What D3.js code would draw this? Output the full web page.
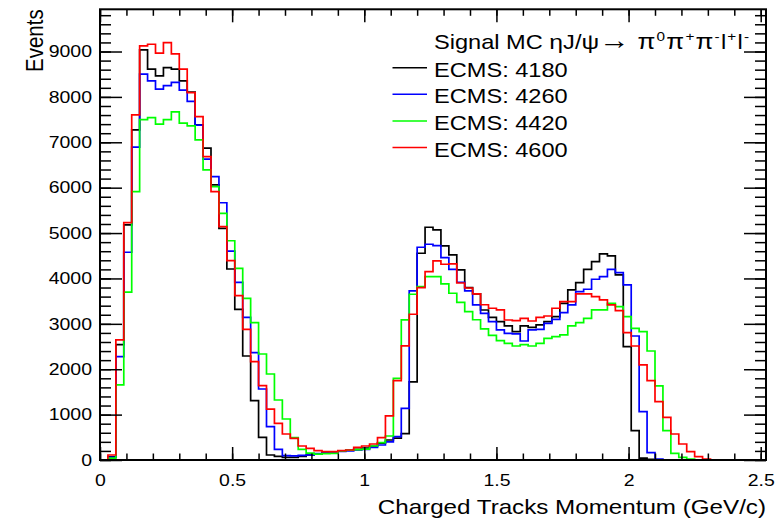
<!DOCTYPE html>
<html lang="en">
<head>
  <meta charset="UTF-8">
  <title>Charged Tracks Momentum</title>
  <script src="https://d3js.org/d3.v7.min.js"></script>
  <style>
    body { margin: 0; background: #fff; }
    text { font-family: "Liberation Sans", Arial, sans-serif; fill: #000; }
  </style>
</head>
<body>
  <svg id="chart" width="782" height="523"></svg>

  <script>
    // histogram: 84 bins of 0.03 GeV/c from 0 to 2.52
    const xRange = [0, 2.52]
    const binWidth = 0.03

    const ecms4180 = [
      0, 70, 2540, 5180, 7273, 9037, 8611, 8463, 8647, 8611, 8353, 8104, 7383, 6870,
      6060, 5104, 4208, 3320, 2291, 1306, 500, 110, 80, 60, 60, 80, 110, 130,
      160, 175, 200, 215, 235, 260, 300, 370, 441, 480, 580, 1720, 4555, 5128,
      5069, 4717, 4518, 4188, 3798, 3660, 3305, 3144, 3049, 2953, 2828, 2953, 2924, 2975,
      3049, 3159, 3453, 3747, 3908, 4202, 4371, 4540, 4496, 4077, 2498, 646, 40, 15,
      0, 0, 0, 0, 0, 0, 0, 0, 0, 0, 0, 0, 0, 0
    ]
    const ecms4260 = [
      0, 60, 2277, 4577, 6892, 8501, 8353, 8170, 8250, 8320, 8150, 7900, 7380, 6627,
      6244, 5668, 4600, 3915, 3144, 2364, 1564, 734, 235, 95, 90, 100, 110, 140,
      160, 170, 190, 200, 220, 235, 280, 330, 400, 514, 1139, 3725, 4687, 4753,
      4723, 4459, 4202, 3916, 3725, 3416, 3232, 3049, 2865, 2791, 2780, 2622, 2865, 2880,
      3012, 3100, 3247, 3416, 3710, 3762, 3982, 4041, 4202, 4129, 3857, 2732, 1065, 161,
      20, 0, 0, 0, 0, 0, 0, 0, 0, 0, 0, 0, 0, 0
    ]
    const ecms4420 = [
      0, 40, 1653, 3700, 5911, 7500, 7545, 7400, 7500, 7670, 7420, 7361, 7053, 6392,
      6021, 5434, 4831, 4223, 3562, 3025, 2335, 1895, 1322, 903, 492, 235, 150, 130,
      140, 147, 200, 215, 230, 240, 308, 382, 529, 1800, 3086, 3652, 3820, 4040,
      4040, 3879, 3674, 3475, 3269, 3090, 2890, 2745, 2630, 2571, 2512, 2540, 2512, 2571,
      2681, 2718, 2755, 2953, 3026, 3122, 3306, 3306, 3453, 3379, 3159, 2902, 2828, 2402,
      1631, 646, 147, 59, 20, 0, 0, 0, 0, 0, 0, 0, 0, 0
    ]
    const ecms4600 = [
      0, 110, 2645, 5230, 7604, 9125, 9160, 8963, 9196, 8948, 8611, 8096, 7566, 6685,
      5911, 5140, 4391, 3620, 2880, 2166, 1637, 1123, 808, 573, 478, 308, 257, 206,
      183, 183, 205, 220, 280, 308, 352, 492, 970, 1748, 2513, 3211, 3798, 4150,
      4386, 4313, 4320, 3900, 3790, 3660, 3420, 3343, 3306, 3085, 3071, 3122, 3063, 3144,
      3173, 3343, 3490, 3490, 3659, 3659, 3600, 3526, 3416, 3291, 2806, 2512, 2094, 1749,
      1286, 940, 573, 353, 184, 73, 20, 0, 0, 0, 0, 0, 0, 0
    ]

    const seriesNames = ["ECMS: 4180", "ECMS: 4260", "ECMS: 4420", "ECMS: 4600"]
    const seriesColors = ["#000000", "#0000ff", "#00ff00", "#ff0000"]
    const seriesValues = [ecms4180, ecms4260, ecms4420, ecms4600]

    const xMajorTicks = [0, 0.5, 1, 1.5, 2, 2.5]
    const yMajorTicks = [0, 1000, 2000, 3000, 4000, 5000, 6000, 7000, 8000, 9000]
    const yMax = 9930

    // root canvas looks stretched sideways, so text is widened to match
    const SX = 1.18
    const frame = { left: 100, right: 766, top: 9.3, bottom: 460 }

    const svg = d3.select("#chart")

    const x = d3.scaleLinear().domain(xRange).range([frame.left, frame.right])
    const y = d3.scaleLinear().domain([0, yMax]).range([frame.bottom, frame.top])

    svg.append("defs").append("clipPath").attr("id", "plotClip")
      .append("rect")
      .attr("x", frame.left).attr("y", frame.top)
      .attr("width", frame.right - frame.left).attr("height", frame.bottom - frame.top)

    // histograms as step outlines
    const histPath = values => {
      const p = d3.path()
      p.moveTo(x(0), y(0))
      values.forEach((v, i) => {
        p.lineTo(x(i * binWidth), y(v))
        p.lineTo(x((i + 1) * binWidth), y(v))
      })
      p.lineTo(x(values.length * binWidth), y(0))
      return p.toString()
    }

    const plot = svg.append("g").attr("clip-path", "url(#plotClip)")
    seriesValues.forEach((vals, k) => {
      plot.append("path")
        .attr("d", histPath(vals))
        .attr("fill", "none")
        .attr("stroke", seriesColors[k])
        .attr("stroke-width", 1.7)
        .attr("stroke-linejoin", "miter")
    })

    // axes: ticks on all four sides, pointing inward
    const xMinorTicks = d3.range(0, 2.52, 0.1)
    const yMinorTicks = d3.range(0, yMax, 200)

    function styleAxis(g) {
      g.select(".domain").remove()
      g.selectAll("line").attr("stroke", "#000").attr("stroke-width", 1.5)
    }

    svg.append("g").attr("transform", `translate(0,${frame.bottom})`)
      .call(d3.axisBottom(x).tickValues(xMinorTicks).tickSize(-6.5).tickFormat(""))
      .call(styleAxis)
    const xAxis = svg.append("g").attr("transform", `translate(0,${frame.bottom})`)
      .call(d3.axisBottom(x).tickValues(xMajorTicks).tickSizeInner(-13).tickSizeOuter(0).tickPadding(14).tickFormat(d3.format("")))
      .call(styleAxis)
    xAxis.selectAll("text")
      .attr("font-size", 16.5)
      .attr("transform", `scale(${SX},1)`)

    svg.append("g").attr("transform", `translate(0,${frame.top})`)
      .call(d3.axisTop(x).tickValues(xMinorTicks).tickSize(-6.5).tickFormat(""))
      .call(styleAxis)
    svg.append("g").attr("transform", `translate(0,${frame.top})`)
      .call(d3.axisTop(x).tickValues(xMajorTicks).tickSize(-13).tickFormat(""))
      .call(styleAxis)

    svg.append("g").attr("transform", `translate(${frame.left},0)`)
      .call(d3.axisLeft(y).tickValues(yMinorTicks).tickSize(-11).tickFormat(""))
      .call(styleAxis)
    const yAxis = svg.append("g").attr("transform", `translate(${frame.left},0)`)
      .call(d3.axisLeft(y).tickValues(yMajorTicks).tickSizeInner(-22).tickSizeOuter(0).tickPadding(8).tickFormat(d3.format("d")))
      .call(styleAxis)
    yAxis.selectAll("text")
      .attr("font-size", 16.5)
      .attr("x", -8 / SX)
      .attr("transform", `scale(${SX},1)`)

    svg.append("g").attr("transform", `translate(${frame.right},0)`)
      .call(d3.axisRight(y).tickValues(yMinorTicks).tickSize(-11).tickFormat(""))
      .call(styleAxis)
    svg.append("g").attr("transform", `translate(${frame.right},0)`)
      .call(d3.axisRight(y).tickValues(yMajorTicks).tickSize(-22).tickFormat(""))
      .call(styleAxis)

    svg.append("rect")
      .attr("x", frame.left).attr("y", frame.top)
      .attr("width", frame.right - frame.left).attr("height", frame.bottom - frame.top)
      .attr("fill", "none").attr("stroke", "#000").attr("stroke-width", 2)

    // axis titles
    svg.append("g")
      .attr("transform", `translate(${frame.right},514) scale(${SX},1)`)
      .append("text")
      .attr("text-anchor", "end")
      .attr("font-size", 20.5)
      .text("Charged Tracks Momentum (GeV/c)")

    svg.append("g")
      .attr("transform", `translate(43,${frame.top}) rotate(-90) scale(1,${SX})`)
      .append("text")
      .attr("text-anchor", "end")
      .attr("font-size", 20.5)
      .text("Events")

    // legend
    const legend = svg.append("g")
    const header = legend.append("g")
      .attr("transform", `translate(434,49.3) scale(${SX},1)`)
      .append("text")
      .attr("font-size", 20)

    // [text, superscript?, font size]
    const headerParts = [
      ["Signal MC ", 0, 20], ["\u03b7", 0, 21], ["J/", 0, 20], ["\u03c8", 0, 21], ["\u2192", 0, 26], [" ", 0, 20],
      ["\u03c0", 0, 22], ["0", 1, 13], ["\u03c0", 0, 22], ["+", 1, 13], ["\u03c0", 0, 22], ["-", 1, 13],
      ["l", 0, 20], ["+", 1, 13], ["l", 0, 20], ["-", 1, 13]
    ]
    let raised = false
    headerParts.forEach(([str, sup, size]) => {
      const t = header.append("tspan").text(str).attr("font-size", size)
      if (sup && !raised) { t.attr("dy", -8); raised = true }
      else if (!sup && raised) { t.attr("dy", 8); raised = false }
      if (sup || str === "\u03c0" || str === "l") t.attr("dx", 1)
    })

    seriesNames.forEach((name, k) => {
      const yy = 76.7 + k * 26.6
      legend.append("line")
        .attr("x1", 392.5).attr("x2", 427)
        .attr("y1", yy - 9).attr("y2", yy - 9)
        .attr("stroke", seriesColors[k])
        .attr("stroke-width", 1.5)
      legend.append("g")
        .attr("transform", `translate(434,${yy}) scale(${SX},1)`)
        .append("text")
        .attr("font-size", 20)
        .text(name)
    })
  </script>
</body>
</html>
